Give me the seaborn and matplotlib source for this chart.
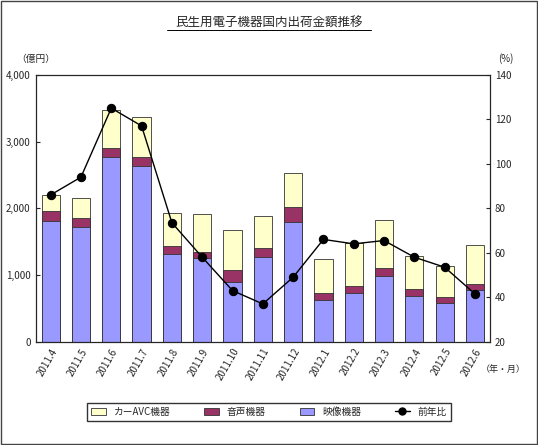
import numpy as np
import pandas as pd
import matplotlib.pyplot as plt
import seaborn as sns
from matplotlib.lines import Line2D
from matplotlib.patches import Patch

months = ['2011.4', '2011.5', '2011.6', '2011.7', '2011.8', '2011.9', '2011.10', '2011.11',
          '2011.12', '2012.1', '2012.2', '2012.3', '2012.4', '2012.5', '2012.6']
video = [1810, 1720, 2770, 2640, 1320, 1260, 900, 1275, 1800, 630, 735, 990, 690, 585, 780]
audio = [150, 135, 135, 135, 120, 90, 180, 135, 225, 105, 105, 120, 105, 90, 90]
car_avc = [240, 300, 570, 585, 495, 570, 600, 470, 510, 510, 645, 720, 495, 465, 585]
yoy = [86, 94, 125, 117, 73.5, 58, 43, 37, 49, 66, 64, 65.5, 58, 53.5, 41.5]

sns.set_style('white')
plt.rcParams['font.family'] = ['Noto Sans CJK JP', 'DejaVu Sans']

df = pd.DataFrame({'month': months, 'video': video, 'audio': audio, 'car': car_avc, 'yoy': yoy})
df['va'] = df['video'] + df['audio']
df['total'] = df['va'] + df['car']

fig = plt.figure(figsize=(5.38, 4.45), dpi=100)
fig.patches.append(plt.Rectangle((0.002, 0.002), 0.996, 0.996, transform=fig.transFigure,
                                 fill=False, edgecolor='#444444', lw=1))
ax = fig.add_axes([0.066, 0.232, 0.845, 0.6])

edge = dict(edgecolor='#333333', linewidth=0.6, width=0.6, saturation=1)
sns.barplot(data=df, x='month', y='total', color='#FFFFCC', ax=ax, **edge)
sns.barplot(data=df, x='month', y='va', color='#993366', ax=ax, **edge)
sns.barplot(data=df, x='month', y='video', color='#9999FF', ax=ax, **edge)
ax.set_ylim(0, 4000)
ax.set_xlim(-0.5, len(months) - 0.5)
ax.set_yticks(range(0, 4001, 1000))
ax.set_yticklabels([f'{v:,}' for v in range(0, 4001, 1000)], fontsize=7)
ax.set_xlabel('')
ax.set_ylabel('')
ax.tick_params(axis='x', rotation=60, labelsize=7, length=0)
for lbl in ax.get_xticklabels():
    lbl.set_ha('right')
    lbl.set_rotation_mode('anchor')
for s in ax.spines.values():
    s.set_color('black')
    s.set_linewidth(0.8)
ax.tick_params(axis='y', left=True, length=3, direction='in')

ax2 = ax.twinx()
sns.lineplot(x=np.arange(len(months)), y=yoy, color='black', marker='o', markersize=6,
             markeredgecolor='black', linewidth=1, ax=ax2)
ax2.set_ylim(20, 140)
ax2.set_yticks(range(20, 141, 20))
ax2.tick_params(axis='y', labelsize=7, right=True, length=3, direction='in')

fig.text(0.5, 0.94, '民生用電子機器国内出荷金額推移', ha='center', fontsize=9)
fig.add_artist(Line2D([0.31, 0.69], [0.933, 0.933], color='black', lw=0.7))
fig.text(0.03, 0.86, '（億円）', fontsize=7)
fig.text(0.925, 0.86, '(%)', fontsize=7)
fig.text(0.935, 0.165, '（年・月）', fontsize=6.5, ha='center')

handles = [Patch(facecolor='#FFFFCC', edgecolor='#333333', lw=0.6),
           Patch(facecolor='#993366', edgecolor='#333333', lw=0.6),
           Patch(facecolor='#9999FF', edgecolor='#333333', lw=0.6),
           Line2D([], [], color='black', marker='o', markersize=5, lw=1)]
leg = fig.legend(handles, ['カーAVC機器', '音声機器', '映像機器', '前年比'], loc='center',
                 bbox_to_anchor=(0.5, 0.075), ncol=4, fontsize=7, frameon=True,
                 fancybox=False, edgecolor='black', columnspacing=3.5, handlelength=1.5)

fig.savefig('out.png', dpi=100)
